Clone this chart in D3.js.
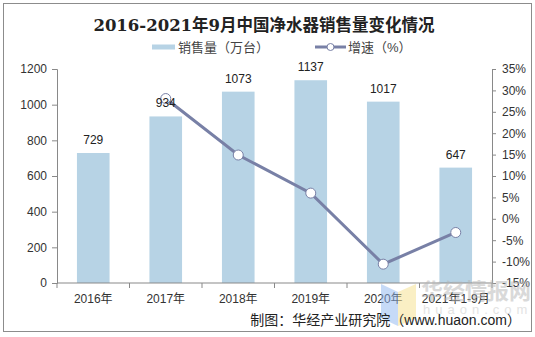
<!DOCTYPE html>
<html>
<head>
<meta charset="utf-8">
<script src="https://cdn.jsdelivr.net/npm/d3@7"></script>
<style>
  body { margin: 0; background: #fff; }
  svg text { font-family: "Liberation Sans", Arial, "Noto Sans CJK SC", sans-serif; }
</style>
</head>
<body>
<svg id="chart" width="535" height="337"></svg>
<script>
const years = ['2016年', '2017年', '2018年', '2019年', '2020年', '2021年1-9月'];
const sales = [729, 934, 1073, 1137, 1017, 647];
// growth rate, first year has no value
const growth = [null, 28.1, 14.9, 6.0, -10.6, -3.2];
const leftTicks = [0, 200, 400, 600, 800, 1000, 1200];
const rightTicks = [-15, -10, -5, 0, 5, 10, 15, 20, 25, 30, 35];

const barColor = '#b7d3e5';
const lineColor = '#7880a6';
const axisColor = '#898989';
const cjk = '"Liberation Sans", Arial, "Noto Sans CJK SC", sans-serif';

const margin = { top: 69, right: 43, bottom: 54, left: 57 };
const width = 535, height = 337;

const svg = d3.select('#chart');

// outer frame
svg.append('rect')
  .attr('x', 3.5).attr('y', 3.5)
  .attr('width', 528).attr('height', 328)
  .attr('fill', '#fff')
  .attr('stroke', '#8c8c8c');

svg.append('text')
  .attr('x', 264).attr('y', 31)
  .attr('text-anchor', 'middle')
  .style('font-family', '"DejaVu Serif", "Liberation Serif", "Noto Sans CJK SC", serif')
  .style('font-weight', 'bold')
  .style('font-size', '16.5px')
  .attr('fill', '#222')
  .text('2016-2021年9月中国净水器销售量变化情况');

// legend
const legend = svg.append('g').style('font-size', '13px').attr('fill', '#444');
legend.append('rect')
  .attr('x', 152).attr('y', 44.5).attr('width', 23).attr('height', 5)
  .attr('fill', barColor);
legend.append('text').attr('x', 178).attr('y', 52).style('font-family', cjk).text('销售量（万台）');
legend.append('line')
  .attr('x1', 315).attr('x2', 346).attr('y1', 47).attr('y2', 47)
  .attr('stroke', lineColor).attr('stroke-width', 3);
legend.append('circle')
  .attr('cx', 330.5).attr('cy', 47).attr('r', 3.5)
  .attr('fill', '#fff').attr('stroke', lineColor).attr('stroke-width', 1);
legend.append('text').attr('x', 348).attr('y', 52).style('font-family', cjk).text('增速（%）');

const x = d3.scaleBand()
  .domain(years)
  .range([margin.left, width - margin.right])
  .paddingInner(0.55)
  .paddingOuter(0.275);

const xBounds = d3.scaleBand()
  .domain(years)
  .range([margin.left, width - margin.right]);

const y = d3.scaleLinear()
  .domain([0, 1200])
  .range([height - margin.bottom, margin.top]);

const y2 = d3.scaleLinear()
  .domain([-15, 35])
  .range([height - margin.bottom, margin.top]);

// bars
svg.append('g')
  .selectAll('rect')
  .data(sales)
  .join('rect')
  .attr('x', (d, i) => x(years[i]))
  .attr('y', d => y(d))
  .attr('width', x.bandwidth())
  .attr('height', d => y(0) - y(d))
  .attr('fill', barColor);

// left axis
const leftAxis = svg.append('g')
  .attr('transform', `translate(${margin.left},0)`)
  .call(d3.axisLeft(y).tickValues(leftTicks).tickSize(5).tickPadding(5)
    .tickFormat(d3.format('d')));

// right axis
const rightAxis = svg.append('g')
  .attr('transform', `translate(${width - margin.right},0)`)
  .call(d3.axisRight(y2).tickValues(rightTicks).tickSize(4).tickPadding(6)
    .tickFormat(d => d + '%'));

// x axis with ticks on the category boundaries
const xAxis = svg.append('g')
  .attr('transform', `translate(0,${y(0)})`);
xAxis.append('line')
  .attr('x1', margin.left).attr('x2', width - margin.right)
  .attr('stroke', axisColor);
xAxis.selectAll('line.tick')
  .data(years.concat(['end']))
  .join('line')
  .attr('class', 'tick')
  .attr('x1', (d, i) => margin.left + i * xBounds.step())
  .attr('x2', (d, i) => margin.left + i * xBounds.step())
  .attr('y1', 0).attr('y2', 5)
  .attr('stroke', axisColor);
xAxis.selectAll('text')
  .data(years)
  .join('text')
  .attr('x', d => x(d) + x.bandwidth() / 2)
  .attr('y', 20)
  .attr('text-anchor', 'middle')
  .style('font-size', '12px')
  .style('font-family', cjk)
  .attr('fill', '#333')
  .text(d => d);

[leftAxis, rightAxis].forEach(g => {
  g.select('.domain').attr('stroke', axisColor);
  g.selectAll('.tick line').attr('stroke', axisColor);
  g.selectAll('.tick text')
    .style('font-size', '12px')
    .style('font-family', '"Liberation Sans", Arial, sans-serif')
    .attr('fill', '#333');
});

// growth line
const pts = growth.map((g, i) => ({ g, i })).filter(d => d.g !== null);
const line = d3.line()
  .x(d => x(years[d.i]) + x.bandwidth() / 2)
  .y(d => y2(d.g));

svg.append('path')
  .datum(pts)
  .attr('d', line)
  .attr('fill', 'none')
  .attr('stroke', lineColor)
  .attr('stroke-width', 3);

svg.append('g')
  .selectAll('circle')
  .data(pts)
  .join('circle')
  .attr('cx', d => x(years[d.i]) + x.bandwidth() / 2)
  .attr('cy', d => y2(d.g))
  .attr('r', 5)
  .attr('fill', '#fff')
  .attr('stroke', lineColor)
  .attr('stroke-width', 1);

// value labels above bars
svg.append('g')
  .selectAll('text')
  .data(sales)
  .join('text')
  .attr('x', (d, i) => x(years[i]) + x.bandwidth() / 2)
  .attr('y', d => y(d) - 9)
  .attr('text-anchor', 'middle')
  .style('font-size', '12px')
  .attr('fill', '#222')
  .text(d => d);

// watermark
const wm = svg.append('g').attr('opacity', 0.5);
wm.append('path')
  .attr('d', 'M381,284 L398,292 L398,326 L381,318 Z')
  .attr('fill', '#8fb6f0');
wm.append('path')
  .attr('d', 'M398,292 L416,284 L416,318 L398,326 Z')
  .attr('fill', '#f7e08a');
wm.append('text')
  .attr('x', 421).attr('y', 299)
  .style('font-family', cjk)
  .style('font-weight', 'bold')
  .style('font-size', '22px')
  .attr('fill', '#b5b5b5')
  .text('华经情报网');
wm.append('text')
  .attr('x', 423).attr('y', 314)
  .style('font-size', '13px')
  .style('letter-spacing', '5px')
  .attr('fill', '#c8c8c8')
  .text('huaon.com');

svg.append('text')
  .attr('x', 521).attr('y', 325)
  .attr('text-anchor', 'end')
  .style('font-family', cjk)
  .style('font-size', '14px')
  .attr('fill', '#222')
  .text('制图：华经产业研究院（www.huaon.com）');
</script>
</body>
</html>
